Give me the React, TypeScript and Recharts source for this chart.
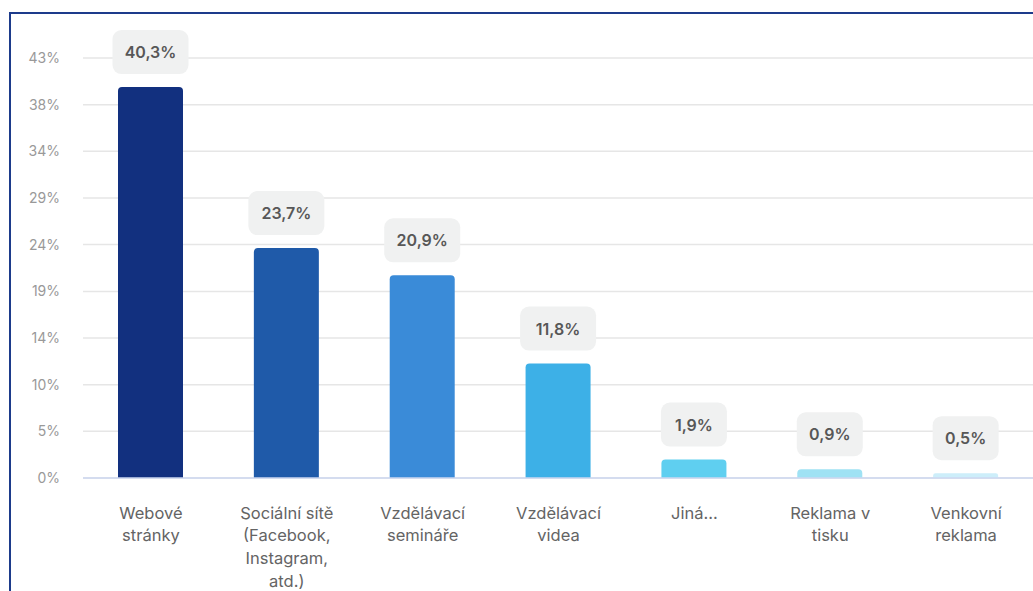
import React from 'react';
import { BarChart, Bar, XAxis, YAxis, CartesianGrid, Cell, LabelList, Text } from 'recharts';

const categories = [
  'Webové stránky',
  'Sociální sítě (Facebook, Instagram, atd.)',
  'Vzdělávací semináře',
  'Vzdělávací videa',
  'Jiná...',
  'Reklama v tisku',
  'Venkovní reklama',
];
const values = [40.3, 23.7, 20.9, 11.8, 1.9, 0.9, 0.5];
const barColors = ['#12307f', '#1f5aa9', '#3a8bd8', '#3db0e7', '#5fcff0', '#9fe2f4', '#cdeefa'];
const yTickValues = [0, 4.81, 9.62, 14.43, 19.24, 24.06, 28.87, 33.68, 38.49, 43.3];
const yTickLabels = ['0%', '5%', '10%', '14%', '19%', '24%', '29%', '34%', '38%', '43%'];
const yMax = 43.3;

const data = categories.map((name, i) => ({ name, value: values[i] }));

const FONT = 'Inter, "Noto Sans", sans-serif';

const fmt = (v: number) => v.toFixed(1).replace('.', ',') + '%';

const XTick = (props: any) => {
  const { x, y, payload } = props;
  return (
    <Text
      x={x}
      y={y + 21}
      width={105}
      textAnchor="middle"
      verticalAnchor="start"
      lineHeight={22.6}
      style={{ fontFamily: FONT, fontSize: 16.5, fill: '#646464' }}
    >
      {payload.value}
    </Text>
  );
};

const ValueLabel = (props: any) => {
  const { x, y, width, value } = props;
  const label = fmt(Number(value));
  const w = label.length * 10 + 26;
  const h = 44;
  const cx = Number(x) + Number(width) / 2;
  const bottom = Number(y) - 13;
  return (
    <g>
      <rect x={cx - w / 2} y={bottom - h} width={w} height={h} rx={9} ry={9} fill="#f0f1f1" />
      <text
        x={cx}
        y={bottom - h / 2}
        textAnchor="middle"
        dominantBaseline="central"
        style={{ fontFamily: FONT, fontSize: 16, fontWeight: 600, fill: '#575757' }}
      >
        {label}
      </text>
    </g>
  );
};

export default function App() {
  return (
    <div style={{ position: 'relative', width: 1033, height: 591, overflow: 'hidden' }}>
      <style>{`body{margin:0;overflow:hidden;}`}</style>
      <div
        style={{
          position: 'absolute',
          left: 9,
          top: 12,
          width: 1100,
          height: 700,
          borderLeft: '2px solid #1d3b8b',
          borderTop: '2px solid #1d3b8b',
          boxSizing: 'border-box',
        }}
      />
      <div style={{ position: 'absolute', left: 0, top: 0 }}>
        <BarChart
          width={1040}
          height={591}
          data={data}
          margin={{ top: 58, right: 6, bottom: 13, left: 0 }}
        >
          <CartesianGrid vertical={false} stroke="#e6e6e6" strokeWidth={1.5} />
          <XAxis
            dataKey="name"
            interval={0}
            height={100}
            tickLine={false}
            axisLine={{ stroke: '#cdd7f0', strokeWidth: 1.5 }}
            tick={<XTick />}
          />
          <YAxis
            width={83}
            domain={[0, yMax]}
            ticks={yTickValues}
            interval={0}
            tickLine={false}
            axisLine={false}
            tickSize={0}
            tickMargin={23}
            tickFormatter={(_v: number, i: number) => yTickLabels[i]}
            tick={{ fontFamily: FONT, fontSize: 14, fill: '#999' }}
          />
          <Bar dataKey="value" barSize={65} radius={[4, 4, 0, 0]} isAnimationActive={false}>
            {data.map((_d, i) => (
              <Cell key={i} fill={barColors[i]} />
            ))}
            <LabelList dataKey="value" content={<ValueLabel />} />
          </Bar>
        </BarChart>
      </div>
    </div>
  );
}
